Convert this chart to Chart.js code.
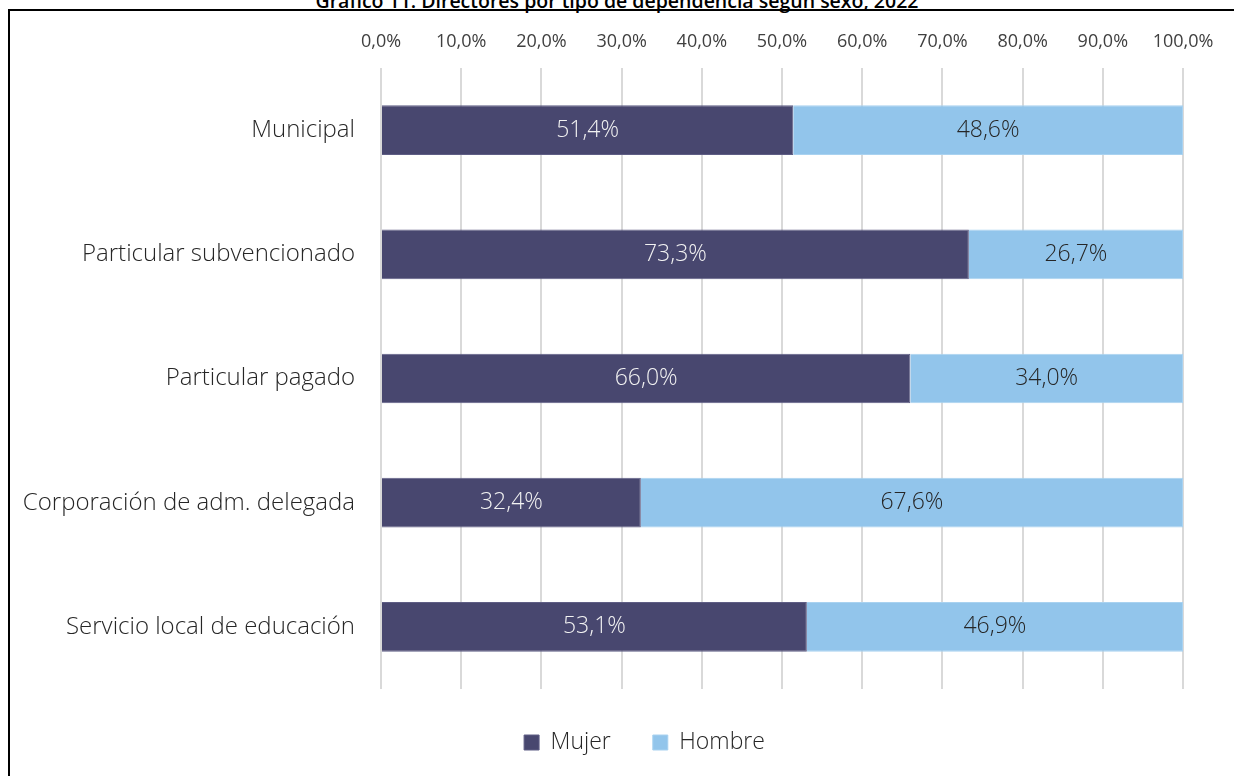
<!DOCTYPE html>
<html>
<head>
<meta charset="utf-8">
<script src="https://cdn.jsdelivr.net/npm/chart.js@4.4.1/dist/chart.umd.min.js"></script>
<style>
  html, body { margin: 0; padding: 0; background: #fff; overflow: hidden; width: 1234px; height: 776px; }
  #title { position: absolute; left: 0; width: 1234px; top: -9px; text-align: center;
           font-family: "Open Sans", "Noto Sans", sans-serif; font-size: 19.5px; font-weight: 600; line-height: 20px; color: #000; }
  #frame { position: absolute; left: 8px; top: 9px; width: 1300px; height: 900px;
           border-left: 2px solid #000; border-top: 2px solid #000; }
  #wrap { position: absolute; left: 0; top: 0; width: 1234px; height: 776px; }
</style>
</head>
<body>
<div id="title">Gráfico 11: Directores por tipo de dependencia según sexo, 2022</div>
<div id="frame"></div>
<div id="wrap"><canvas id="c" width="1234" height="776"></canvas></div>
<script>
const categories = ["Municipal", "Particular subvencionado", "Particular pagado", "Corporación de adm. delegada", "Servicio local de educación"];
const mujer = [51.4, 73.3, 66.0, 32.4, 53.1];
const hombre = [48.6, 26.7, 34.0, 67.6, 46.9];
const seriesNames = ["Mujer", "Hombre"];

const FONT = '"Open Sans", "Noto Sans", sans-serif';
const fmt = v => v.toFixed(1).replace('.', ',') + '%';

const labelPlugin = {
  id: 'barLabels',
  afterLayout(chart) {
    // center the legend block under the reference position
    chart.legend.left += 53;
    chart.legend.right += 53;
  },
  afterDatasetsDraw(chart) {
    const ctx = chart.ctx;
    const colors = ['#f2f2f2', '#262626'];
    chart.data.datasets.forEach((ds, di) => {
      const meta = chart.getDatasetMeta(di);
      meta.data.forEach((el, i) => {
        const p = el.getProps(['x', 'y', 'base'], true);
        const cx = (p.x + p.base) / 2;
        ctx.save();
        ctx.font = '300 23px ' + FONT;
        ctx.fillStyle = colors[di];
        ctx.textAlign = 'center';
        ctx.textBaseline = 'middle';
        ctx.fillText(fmt(ds.data[i]), cx, p.y);
        ctx.restore();
      });
    });
  }
};

new Chart(document.getElementById('c'), {
  type: 'bar',
  data: {
    labels: categories,
    datasets: [
      { label: seriesNames[0], data: mujer, backgroundColor: '#48476f', borderColor: '#5f5e85', borderWidth: 1, barPercentage: 0.8, categoryPercentage: 0.5 },
      { label: seriesNames[1], data: hombre, backgroundColor: '#92c5eb', borderColor: '#a9d2f0', borderWidth: 1, barPercentage: 0.8, categoryPercentage: 0.5 }
    ]
  },
  options: {
    indexAxis: 'y',
    responsive: false,
    animation: false,
    devicePixelRatio: 1,
    layout: { padding: { left: 0, right: 51, top: 0, bottom: 12 } },
    scales: {
      x: {
        position: 'top',
        stacked: true,
        min: 0, max: 100,
        afterFit(s) { s.height = 68; },
        ticks: { stepSize: 10, callback: v => fmt(v), color: '#404040', font: { family: FONT, size: 18 }, padding: 15, maxRotation: 0 },
        grid: { color: '#d9d9d9', lineWidth: 2, drawTicks: false },
        border: { display: false }
      },
      y: {
        stacked: true,
        afterFit(s) { s.width = 381; },
        ticks: { color: '#262626', font: { family: FONT, size: 24, weight: '300' }, padding: 26 },
        grid: { display: false, drawTicks: false },
        border: { display: false }
      }
    },
    plugins: {
      legend: {
        position: 'bottom',
        labels: { boxWidth: 15, boxHeight: 15, padding: 42, color: '#262626', font: { family: FONT, size: 23, weight: '300' } }
      },
      tooltip: { enabled: false }
    }
  },
  plugins: [labelPlugin]
});
</script>
</body>
</html>
